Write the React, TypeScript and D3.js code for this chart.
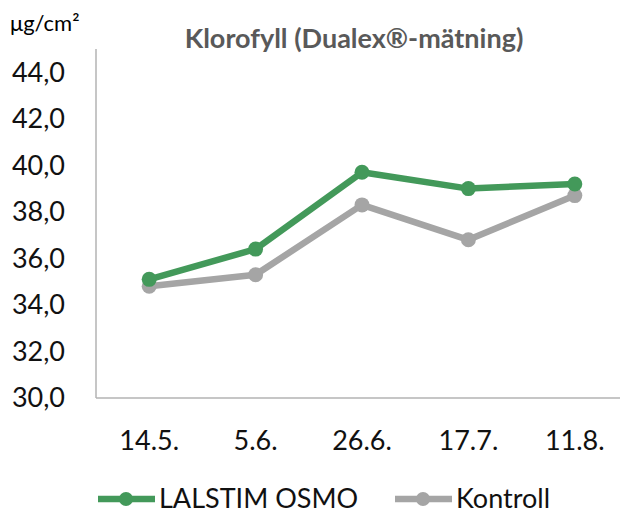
import * as d3 from 'd3';

const categories = ["14.5.", "5.6.", "26.6.", "17.7.", "11.8."];
const osmoValues = [35.1, 36.4, 39.7, 39.0, 39.2];
const kontrollValues = [34.8, 35.3, 38.3, 36.8, 38.7];
const yTicks = [30, 32, 34, 36, 38, 40, 42, 44];
const seriesNames = ["LALSTIM OSMO", "Kontroll"];

const width = 620;
const height = 513;
const font = "Lato, 'Open Sans', sans-serif";
const green = "#43995a";
const gray = "#a5a5a5";

export default function App() {
  const x = d3.scaleBand<string>().domain(categories).range([96, 628]);
  const y = d3.scaleLinear().domain([30, 45]).range([398, 49]);
  const cx = (c: string) => (x(c) ?? 0) + x.bandwidth() / 2;

  const line = d3.line<number>()
    .x((_, i) => cx(categories[i]))
    .y(d => y(d));

  const fmt = (v: number) => d3.format(".1f")(v).replace(".", ",");

  const series = [
    { name: seriesNames[0], values: osmoValues, color: green },
    { name: seriesNames[1], values: kontrollValues, color: gray },
  ];

  // legend layout
  const legend = [
    { x: 98, color: green, name: seriesNames[0] },
    { x: 395, color: gray, name: seriesNames[1] },
  ];

  return (
    <svg width={width} height={height} style={{ position: "absolute", left: 0, top: 0 }} fontFamily={font}>
      <text x={10} y={31} fontSize={22} fill="#000">μg/cm²</text>
      <text x={354} y={48} textAnchor="middle" fontSize={27} fontWeight="bold" fill="#595959">
        Klorofyll (Dualex®-mätning)
      </text>

      {/* axes */}
      <line x1={96} x2={96} y1={y(45)} y2={y(30)} stroke="#b3b3b3" strokeWidth={1.5} />
      <line x1={96} x2={628} y1={y(30)} y2={y(30)} stroke="#b3b3b3" strokeWidth={1.5} />

      {yTicks.map(t => (
        <text key={t} x={65} y={y(t)} dy="0.35em" textAnchor="end" fontSize={27} fill="#111">{fmt(t)}</text>
      ))}
      {categories.map(c => (
        <text key={c} x={cx(c)} y={441} dy="0.35em" textAnchor="middle" fontSize={27} fill="#111">{c}</text>
      ))}

      {series.slice().reverse().map(s => (
        <g key={s.name}>
          <path d={line(s.values) || ""} fill="none" stroke={s.color} strokeWidth={6.5} strokeLinejoin="round" />
          {s.values.map((v, i) => (
            <circle key={i} cx={cx(categories[i])} cy={y(v)} r={7.5} fill={s.color} />
          ))}
        </g>
      ))}

      {legend.map(l => (
        <g key={l.name}>
          <line x1={l.x} x2={l.x + 57} y1={499} y2={499} stroke={l.color} strokeWidth={6.5} />
          <circle cx={l.x + 28} cy={499} r={7} fill={l.color} />
          <text x={l.x + 61} y={499} dy="0.35em" fontSize={27} fill="#111">{l.name}</text>
        </g>
      ))}
    </svg>
  );
}
